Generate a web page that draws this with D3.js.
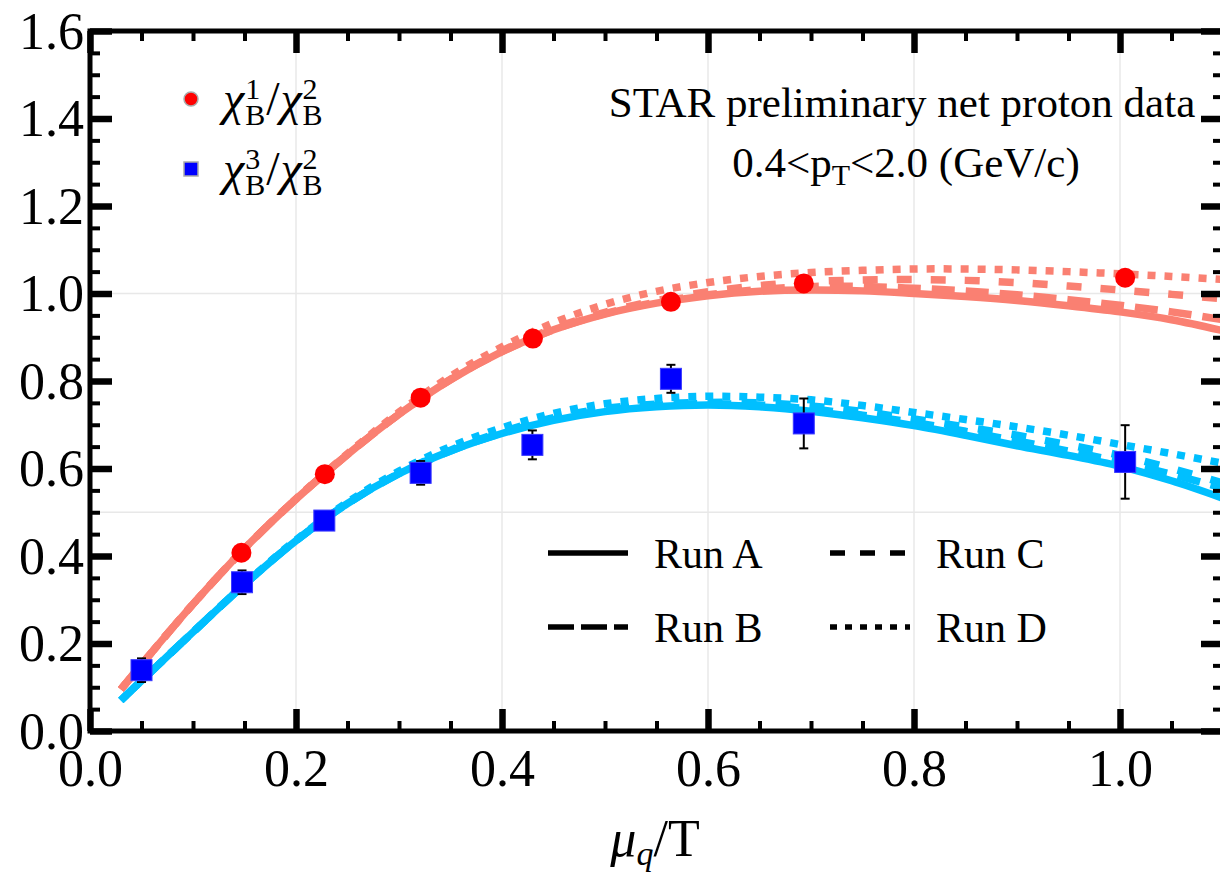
<!DOCTYPE html>
<html><head><meta charset="utf-8">
<script src="https://cdn.jsdelivr.net/npm/d3@7"></script>
<style>body{margin:0;background:#fff}svg{display:block}text{font-family:"Liberation Serif","Times New Roman",serif}</style>
</head><body><svg id="c" width="1220" height="872"></svg>
<script>
// ---- data ----
const xMajor = [0.0, 0.2, 0.4, 0.6, 0.8, 1.0];
const yMajor = [0.0, 0.2, 0.4, 0.6, 0.8, 1.0, 1.2, 1.4, 1.6];
const xGrid = [0.2, 0.4, 0.6, 0.8, 1.0];
const yGrid = [0.5, 1.0];

const redX   = [0.05, 0.147, 0.228, 0.321, 0.43, 0.564, 0.693, 1.005];
const redY   = [0.14, 0.4075, 0.587, 0.762, 0.897, 0.981, 1.023, 1.036];
const blueX  = [0.05, 0.1476, 0.2275, 0.321, 0.4295, 0.564, 0.693, 1.005];
const blueY  = [0.139, 0.340, 0.481, 0.590, 0.654, 0.805, 0.703, 0.615];
const blueErr= [0.027, 0.027, 0.015, 0.027, 0.033, 0.032, 0.057, 0.084];

const curveX = [0.03,0.05,0.1,0.15,0.2,0.25,0.3,0.35,0.4,0.45,0.5,0.55,0.6,0.65,0.7,0.75,0.8,0.85,0.9,0.95,1.0,1.05,1.1];
const redA  = [0.095,0.152,0.29,0.417,0.53,0.632,0.724,0.803,0.867,0.917,0.953,0.978,0.995,1.005,1.008,1.006,1.000,0.993,0.984,0.972,0.958,0.940,0.915];
const redB  = [0.095,0.152,0.29,0.417,0.53,0.632,0.724,0.803,0.867,0.917,0.954,0.980,0.997,1.009,1.016,1.016,1.012,1.006,0.997,0.986,0.973,0.958,0.940];
const redC  = [0.095,0.152,0.29,0.417,0.53,0.632,0.724,0.804,0.869,0.920,0.957,0.984,1.004,1.018,1.027,1.031,1.032,1.030,1.025,1.017,1.008,0.998,0.988];
const redD  = [0.095,0.152,0.29,0.417,0.531,0.634,0.729,0.811,0.878,0.933,0.975,1.005,1.025,1.039,1.048,1.053,1.056,1.056,1.054,1.050,1.045,1.039,1.032];
const blueA = [0.07,0.115,0.226,0.335,0.435,0.52,0.588,0.64,0.68,0.71,0.73,0.741,0.745,0.741,0.731,0.716,0.698,0.676,0.652,0.630,0.605,0.572,0.532];
const blueB = [0.07,0.115,0.226,0.335,0.435,0.52,0.588,0.64,0.681,0.712,0.733,0.744,0.748,0.745,0.736,0.722,0.705,0.685,0.663,0.640,0.615,0.587,0.555];
const blueC = [0.07,0.115,0.226,0.335,0.435,0.52,0.589,0.642,0.684,0.716,0.737,0.747,0.751,0.750,0.743,0.730,0.713,0.695,0.676,0.654,0.630,0.600,0.567];
const blueD = [0.07,0.115,0.226,0.336,0.437,0.523,0.594,0.650,0.693,0.726,0.748,0.760,0.765,0.763,0.757,0.744,0.728,0.712,0.695,0.676,0.655,0.634,0.612];

const runNames = ["Run A","Run B","Run C","Run D"];
const dashes = [null, "23,11", "15,19", "8,9"];
const legendDashes = [null, "26,7", "15,15", "7,8"];

// ---- drawing ----
const svg = d3.select("#c");
const x = d3.scaleLinear().domain([0, 1.1]).range([90, 1223]);
const y = d3.scaleLinear().domain([0, 1.6]).range([731, 31]);
const minorX = d3.range(0, 1.1001, 0.05).map(v => +v.toFixed(2));
const minorY = d3.range(0, 1.6001, 0.05).map(v => +v.toFixed(2));

// grid
svg.append("g").selectAll("line").data(xGrid).join("line")
  .attr("x1", d => x(d)).attr("x2", d => x(d)).attr("y1", y(0)).attr("y2", y(1.6))
  .attr("stroke", "#e8e8e8").attr("stroke-width", 1.5);
svg.append("g").selectAll("line").data(yGrid).join("line")
  .attr("y1", d => y(d)).attr("y2", d => y(d)).attr("x1", x(0)).attr("x2", x(1.1))
  .attr("stroke", "#e8e8e8").attr("stroke-width", 1.5);

// curves
svg.append("clipPath").attr("id","clip").append("rect")
  .attr("x", x(0)).attr("y", y(1.6)).attr("width", x(1.1)-x(0)).attr("height", y(0)-y(1.6));
const line = d3.line().x(d => x(d[0])).y(d => y(d[1])).curve(d3.curveCatmullRom.alpha(0.5));
const gCurves = svg.append("g").attr("clip-path","url(#clip)");
[[redA,0],[redB,1],[redC,2],[redD,3]].forEach(([arr,i]) => {
  gCurves.append("path").datum(curveX.map((cx, j) => [cx, arr[j]]))
    .attr("d", line).attr("fill","none").attr("stroke", "#FA8072")
    .attr("stroke-width", 7.5).attr("stroke-dasharray", dashes[i]);
});
[[blueA,0],[blueB,1],[blueC,2],[blueD,3]].forEach(([arr,i]) => {
  gCurves.append("path").datum(curveX.map((cx, j) => [cx, arr[j]]))
    .attr("d", line).attr("fill","none").attr("stroke", "#00BFFF")
    .attr("stroke-width", 7.5).attr("stroke-dasharray", dashes[i]);
});

// red points
svg.append("g").selectAll("circle").data(redX.map((d,i)=>[d,redY[i]])).join("circle")
  .attr("cx", d => x(d[0])).attr("cy", d => y(d[1])).attr("r", 10).attr("fill", "#FF0000");
// blue error bars
const gErr = svg.append("g").attr("stroke","#000").attr("stroke-width",2);
blueX.forEach((bx,i) => {
  const cx = x(bx), y1 = y(blueY[i]-blueErr[i]), y2 = y(blueY[i]+blueErr[i]);
  gErr.append("line").attr("x1",cx).attr("x2",cx).attr("y1",y1).attr("y2",y2);
  gErr.append("line").attr("x1",cx-4.5).attr("x2",cx+4.5).attr("y1",y1).attr("y2",y1);
  gErr.append("line").attr("x1",cx-4.5).attr("x2",cx+4.5).attr("y1",y2).attr("y2",y2);
});
// blue squares
svg.append("g").selectAll("rect").data(blueX.map((d,i)=>[d,blueY[i]])).join("rect")
  .attr("x", d => x(d[0])-10.5).attr("y", d => y(d[1])-10.5).attr("width",21).attr("height",21)
  .attr("fill","#0000FF").attr("stroke","#3a3aff").attr("stroke-width",1);

// axes (ticks inward)
function styleAxis(g, w){ g.select(".domain").remove(); g.selectAll(".tick line").attr("stroke","#000").attr("stroke-width", w); }
const fmt = d3.format(".1f");
const axB = svg.append("g").attr("transform",`translate(0,${y(0)})`)
  .call(d3.axisBottom(x).tickValues(minorX).tickSize(-10).tickFormat(""));
styleAxis(axB, 4);
const axB2 = svg.append("g").attr("transform",`translate(0,${y(0)})`)
  .call(d3.axisBottom(x).tickValues(xMajor).tickSize(-22).tickFormat(fmt).tickPadding(0));
styleAxis(axB2, 6.5);
axB2.selectAll("text").attr("font-size",52).attr("fill","#000").attr("dy",0).attr("y",55);

const axT = svg.append("g").attr("transform",`translate(0,${y(1.6)})`)
  .call(d3.axisTop(x).tickValues(minorX).tickSize(-10).tickFormat(""));
styleAxis(axT, 4);
const axT2 = svg.append("g").attr("transform",`translate(0,${y(1.6)})`)
  .call(d3.axisTop(x).tickValues(xMajor).tickSize(-22).tickFormat(""));
styleAxis(axT2, 6.5);

const axL = svg.append("g").attr("transform",`translate(${x(0)},0)`)
  .call(d3.axisLeft(y).tickValues(minorY).tickSize(-10).tickFormat(""));
styleAxis(axL, 4);
const axL2 = svg.append("g").attr("transform",`translate(${x(0)},0)`)
  .call(d3.axisLeft(y).tickValues(yMajor).tickSize(-22).tickFormat(fmt).tickPadding(0));
styleAxis(axL2, 6.5);
axL2.selectAll("text").attr("font-size",52).attr("fill","#000").attr("x",-6).attr("dy","0.33em");

const axR = svg.append("g").attr("transform",`translate(${x(1.1)},0)`)
  .call(d3.axisRight(y).tickValues(minorY).tickSize(-10).tickFormat(""));
styleAxis(axR, 4);
const axR2 = svg.append("g").attr("transform",`translate(${x(1.1)},0)`)
  .call(d3.axisRight(y).tickValues(yMajor).tickSize(-22).tickFormat(""));
styleAxis(axR2, 6.5);

// frame
svg.append("rect").attr("x", x(0)).attr("y", y(1.6)).attr("width", x(1.1)-x(0)).attr("height", y(0)-y(1.6))
  .attr("fill","none").attr("stroke","#000").attr("stroke-width",5);

// axis title  mu_q / T
const title = svg.append("text").attr("x", 655).attr("y", 856).attr("font-size", 52).attr("text-anchor","middle");
title.append("tspan").attr("font-style","italic").text("μ");
title.append("tspan").attr("font-style","italic").attr("font-size",34).attr("dy",9).text("q");
title.append("tspan").attr("dy",-9).text("/T");

// top-left legend: one text element per row, stacked scripts via tspans
function measure(txt, size, italic){
  const t = svg.append("text").attr("font-size",size).attr("font-style", italic ? "italic" : null).text(txt);
  const w = t.node().getComputedTextLength(); t.remove(); return w;
}
function chiRatio(x0, base, sup){
  const t = svg.append("text").attr("y", base);
  let cx = x0;
  const parts = [[sup,"B"],["2","B"]];
  parts.forEach((p, k) => {
    t.append("tspan").attr("x",cx).attr("y",base).attr("font-size",48).attr("font-style","italic").text("χ");
    cx += measure("χ",48,true) + 1;
    t.append("tspan").attr("x",cx).attr("y",base-16).attr("font-size",30).text(p[0]);
    t.append("tspan").attr("x",cx).attr("y",base+10).attr("font-size",30).text(p[1]);
    cx += Math.max(measure(p[0],30), measure(p[1],30)) + 1;
    if (k === 0){
      t.append("tspan").attr("x",cx).attr("y",base).attr("font-size",48).text("/");
      cx += measure("/",48) + 1;
    }
  });
}
svg.append("circle").attr("cx",191).attr("cy",99).attr("r",7).attr("fill","#FF0000").attr("stroke","#aaa").attr("stroke-width",1.5);
chiRatio(223, 115, "1");
svg.append("rect").attr("x",184).attr("y",162).attr("width",14).attr("height",14).attr("fill","#0000FF").attr("stroke","#aaa").attr("stroke-width",1.5);
chiRatio(223, 185, "3");

// top-right annotation
svg.append("text").attr("x",902).attr("y",117).attr("font-size",43).attr("text-anchor","middle").text("STAR preliminary net proton data");
const t2 = svg.append("text").attr("x",906).attr("y",177).attr("font-size",43).attr("text-anchor","middle");
t2.append("tspan").text("0.4<p");
t2.append("tspan").attr("font-size",30).attr("dy",8).text("T");
t2.append("tspan").attr("dy",-8).text("<2.0 (GeV/c)");

// run legend
const legPos = [[548,553],[548,627],[830,553],[830,627]];
runNames.forEach((n,i) => {
  const [lx, ly] = legPos[i];
  svg.append("line").attr("x1",lx).attr("x2",lx+80).attr("y1",ly).attr("y2",ly)
    .attr("stroke","#000").attr("stroke-width",5.5).attr("stroke-dasharray", legendDashes[i]);
  svg.append("text").attr("x",lx+106).attr("y",ly+15).attr("font-size",42).text(n);
});
</script></body></html>
